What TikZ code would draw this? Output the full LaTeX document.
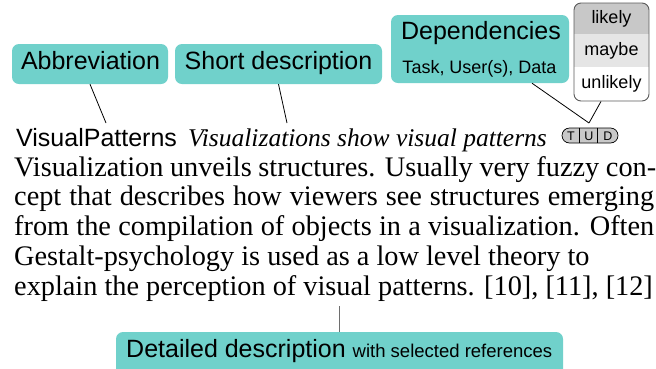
\documentclass[tikz,border=0pt]{standalone}
\usepackage{fontspec}
\setmainfont{Liberation Serif}
\newfontfamily\lsans{Liberation Sans}
\usetikzlibrary{calc}
\definecolor{tealA}{RGB}{112,209,203}
\definecolor{rowA}{RGB}{200,200,200}
\definecolor{rowB}{RGB}{229,229,229}
\definecolor{frameG}{RGB}{90,90,90}
\definecolor{tudfill}{RGB}{200,200,200}
\definecolor{connG}{RGB}{110,110,110}
\begin{document}
\begin{tikzpicture}[x=1pt,y=-1pt,
  tealbox/.style={fill=tealA, rounded corners=7pt, inner sep=0pt},
  biglbl/.style={font=\lsans\fontsize{25}{25}\selectfont, inner sep=0pt, anchor=base},
  smalllbl/.style={font=\lsans\fontsize{18}{18}\selectfont, inner sep=0pt},
  bodyline/.style={font=\fontsize{28.3}{29.75}\selectfont, anchor=base west, inner sep=0pt},
  conn/.style={draw=black, line width=0.8pt},
  tudletter/.style={font=\lsans\fontsize{12.5}{12.5}\selectfont, inner sep=0pt, anchor=base}
]
\useasboundingbox (0,0) rectangle (656,368);
\clip (0,0) rectangle (656,368);

% ---- top boxes ----
\node[tealbox, minimum width=156pt, minimum height=40pt] (abbrbox) at (90,64) {};
\node[biglbl] (abbrtxt) at (90.5,69) {Abbreviation};

\node[tealbox, minimum width=207pt, minimum height=40pt] (shortbox) at (278.5,64) {};
\node[biglbl] (shorttxt) at (278.5,69) {Short description};

\node[tealbox, minimum width=178pt, minimum height=68pt] (depbox) at (480,49) {};
\node[biglbl] (deptxt) at (481,39) {Dependencies};
\node[smalllbl, anchor=base] (deptxtb) at (479.5,73) {Task, User(s), Data};

% ---- likelihood legend ----
\begin{scope}
  \clip[rounded corners=7pt] (574,3) rectangle (649,101);
  \fill[rowA] (574,3) rectangle (649,34);
  \fill[rowB] (574,34) rectangle (649,67);
  \fill[white] (574,67) rectangle (649,101);
\end{scope}
\node[draw=frameG, line width=0.9pt, rounded corners=7pt, minimum width=75pt, minimum height=98pt, inner sep=0pt] (lkbox) at (611.5,52) {};
\node[smalllbl] (lk1) at (611.5,18.5) {likely};
\node[smalllbl] (lk2) at (611.5,50.5) {maybe};
\node[smalllbl] (lk3) at (611.5,84) {unlikely};

% ---- title line ----
\node[font=\lsans\fontsize{25}{25}\selectfont, anchor=base west, inner sep=0pt] (vp) at (16,146) {VisualPatterns};
\node[font=\fontsize{25.5}{26}\selectfont\itshape, anchor=base west, inner sep=0pt] (shortd) at (188,146) {Visualizations show visual patterns};

% ---- TUD symbol ----
\node[draw=black, line width=0.7pt, fill=tudfill, rounded corners=7.5pt, minimum width=56pt, minimum height=15pt, inner sep=0pt] (tud) at (590,135.5) {};
\draw[line width=0.7pt] ($(tud.north west)+(18,0)$) -- ($(tud.south west)+(18,0)$);
\draw[line width=0.7pt] ($(tud.north west)+(36,0)$) -- ($(tud.south west)+(36,0)$);
\node[tudletter] (tudT) at (571,140.5) {T};
\node[tudletter] (tudU) at (589,140.5) {U};
\node[tudletter] (tudD) at (608,140.5) {D};

% ---- connectors ----
\coordinate (abbrEnd) at (106,123);
\coordinate (shortEnd) at (287,123);
\coordinate (tudTop) at (589,123);
\draw[conn] (abbrbox.south) -- (abbrEnd);
\draw[conn] (shortbox.south) -- (shortEnd);
\draw[conn] ($(depbox.south)+(52,0)$) -- (tudTop);
\draw[conn] ($(lkbox.south)+(-10.5,0)$) -- (tudTop);

% ---- body text ----
\node[bodyline] (l1) at (14,176) {\makebox[642pt][s]{Visualization unveils structures. Usually very fuzzy con-}};
\node[bodyline] (l2) at (14,205.5) {\makebox[640pt][s]{cept that describes how viewers see structures emerging}};
\node[bodyline] (l3) at (14,235.5) {\makebox[640pt][s]{from the compilation of objects in a visualization. Often}};
\node[bodyline] (l4) at (14,265.5) {Gestalt-psychology is used as a low level theory to};
\node[bodyline] (l5) at (14,295) {explain the perception of visual patterns. [10], [11], [12]};

% ---- detailed description ----
\node[tealbox, minimum width=447pt, minimum height=48pt] (detbox) at (339.5,356) {};
\node[font=\lsans\fontsize{25}{25}\selectfont, anchor=base west, inner sep=0pt] (dettxt) at (126,357) {Detailed description {\fontsize{18.5}{18.5}\selectfont with selected references}};
\coordinate (detTop) at (339.5,306);
\draw[draw=connG, line width=1.2pt] (detTop) -- (detbox.north);
\end{tikzpicture}
\end{document}
